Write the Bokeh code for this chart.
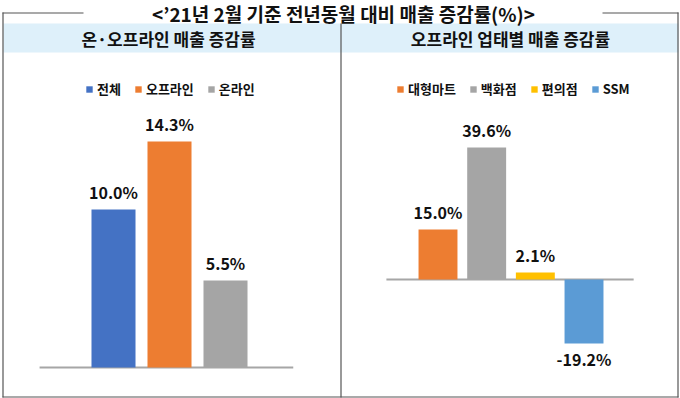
from bokeh.plotting import figure
from bokeh.models import Range1d, Legend, LegendItem, BoxAnnotation
from bokeh.core.properties import value
from bokeh.embed import file_html
from bokeh.resources import INLINE

# ---------------- data ----------------
title_text = "<’21년 2월 기준 전년동월 대비 매출 증감률(%)>"
left_title = "온·오프라인 매출 증감률"
right_title = "오프라인 업태별 매출 증감률"

left_cats = ["전체", "오프라인", "온라인"]
left_vals = [10.0, 14.3, 5.5]
left_colors = ["#4472C4", "#ED7D31", "#A5A5A5"]

right_cats = ["대형마트", "백화점", "편의점", "SSM"]
right_vals = [15.0, 39.6, 2.1, -19.2]
right_colors = ["#ED7D31", "#A5A5A5", "#FFC000", "#5B9BD5"]

FONT = value("Noto Sans CJK KR")

# ---------------- layout (page pixel frame) ----------------
X0, X1 = 0, 680      # frame left/right in page px
Y0, Y1 = 0, 398      # frame top/bottom in page px

p = figure(width=680, height=398, x_range=Range1d(X0, X1), y_range=Range1d(Y1, Y0),
           x_axis_type=None, y_axis_type=None, toolbar_location=None,
           output_backend="svg", min_border=0, outline_line_color=None)
p.grid.visible = False
p.background_fill_color = "white"
p.border_fill_color = "white"


def panel_ranges(name, center0, step, base_px, px_per_unit):
    p.extra_x_ranges[name + "_x"] = Range1d((X0 - center0) / step, (X1 - center0) / step)
    p.extra_y_ranges[name + "_y"] = Range1d((base_px - Y1) / px_per_unit, (base_px - Y0) / px_per_unit)


panel_ranges("L", 113, 56, 367, 15.8)
panel_ranges("R", 437.5, 48.67, 279, 132 / 39.6)

# header band and frame
p.add_layout(BoxAnnotation(left=3, right=678, top=23, bottom=52, fill_color="#DEF0FA",
                           fill_alpha=1, line_color=None, level="underlay"))
frame_col = "#555555"
p.segment(x0=[2, 602, 2.5, 677.5, 2, 340.5],
          y0=[12.5, 12.5, 12, 12, 396.5, 23],
          x1=[83, 678, 2.5, 677.5, 678, 340.5],
          y1=[12.5, 12.5, 397, 397, 396.5, 397],
          line_color=frame_col, line_width=1.2)

p.text(x=[343], y=[13], text=[title_text], text_align="center", text_baseline="middle",
       text_font=FONT, text_font_style="bold", text_font_size="19px", text_color="#111111")
p.text(x=[168, 510], y=[38, 38], text=[left_title, right_title], text_align="center",
       text_baseline="middle", text_font=FONT, text_font_style="bold",
       text_font_size="17px", text_color="#111111")


def panel(name, cats, vals, colors, bar_w, base_l, base_r, legend_loc):
    n = len(cats)
    idx = list(range(n))
    xr, yr = name + "_x", name + "_y"
    p.segment(x0=[base_l], y0=[0], x1=[n - 1 + base_r], y1=[0], x_range_name=xr,
              y_range_name=yr, line_color="#A6A6A6", line_width=2)
    r = p.vbar(x=idx, top=vals, bottom=0, width=bar_w, fill_color=colors, line_color=None,
               x_range_name=xr, y_range_name=yr)
    labels = [f"{v:.1f}%" for v in vals]
    offs = [-18 if v >= 0 else 15 for v in vals]
    p.text(x=idx, y=vals, text=labels, y_offset=offs, text_align="center",
           text_baseline="alphabetic", text_font=FONT, text_font_style="bold",
           text_font_size="16px", text_color="#111111", x_range_name=xr, y_range_name=yr)
    items = [LegendItem(label=c, renderers=[r], index=i) for i, c in enumerate(cats)]
    lg = Legend(items=items, orientation="horizontal", location=legend_loc,
                glyph_width=8, glyph_height=8, label_standoff=4, spacing=13,
                padding=0, margin=0, border_line_color=None, background_fill_alpha=0,
                label_text_font="Noto Sans CJK KR", label_text_font_style="bold",
                label_text_font_size="13px", label_height=8, label_text_color="#111111")
    p.add_layout(lg)


panel("L", left_cats, left_vals, left_colors, 0.786, -1.32, 1.21, (85, 300))
panel("R", right_cats, right_vals, right_colors, 0.80, -1.06, 1.02, (396, 300))

open("out.html", "w").write(file_html(p, INLINE))
